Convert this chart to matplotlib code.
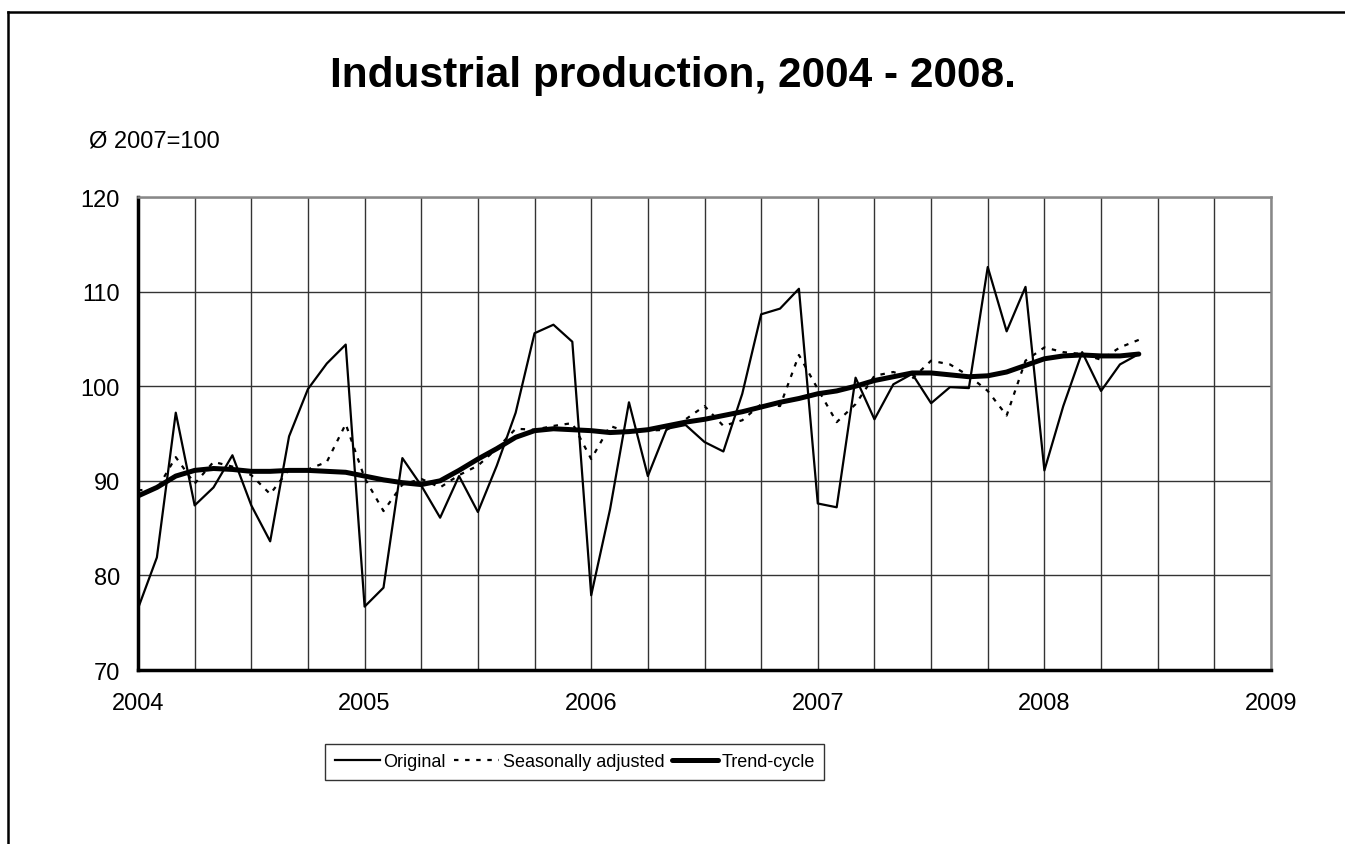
import matplotlib
matplotlib.use("Agg")
import matplotlib.pyplot as plt
import numpy as np
from matplotlib.lines import Line2D

plt.rcParams['font.family'] = ['Liberation Sans', 'DejaVu Sans']

start_year = 2004
original = [76.5, 81.9, 97.2, 87.4, 89.3, 92.7, 87.4, 83.6, 94.7, 99.7, 102.4, 104.4,
            76.7, 78.7, 92.4, 89.5, 86.1, 90.5, 86.7, 91.6, 97.2, 105.6, 106.5, 104.7,
            77.9, 87.0, 98.3, 90.5, 95.5, 95.9, 94.1, 93.1, 99.2, 107.6, 108.2, 110.3,
            87.6, 87.2, 100.9, 96.5, 100.2, 101.3, 98.2, 99.9, 99.8, 112.6, 105.8, 110.5,
            91.1, 97.9, 103.6, 99.5, 102.3, 103.4]
seasonal = [89.0, 89.1, 92.5, 89.7, 92.0, 91.5, 90.6, 88.6, 91.2, 91.2, 92.0, 96.0,
            90.3, 86.8, 89.6, 90.2, 89.3, 90.6, 91.6, 93.4, 95.5, 95.4, 95.8, 96.1,
            92.3, 95.8, 95.1, 95.3, 95.4, 96.5, 97.9, 95.8, 96.4, 98.1, 97.9, 103.3,
            99.7, 96.2, 98.1, 101.1, 101.5, 100.8, 102.7, 102.3, 101.1, 99.5, 96.9, 102.7,
            104.1, 103.6, 103.4, 102.8, 104.1, 104.9]
trend = [88.4, 89.3, 90.5, 91.1, 91.3, 91.2, 91.0, 91.0, 91.1, 91.1, 91.0, 90.9,
         90.5, 90.1, 89.8, 89.6, 90.0, 91.1, 92.3, 93.4, 94.6, 95.3, 95.5, 95.4,
         95.3, 95.1, 95.2, 95.4, 95.8, 96.2, 96.5, 96.9, 97.3, 97.8, 98.3, 98.7,
         99.2, 99.5, 100.0, 100.6, 101.0, 101.4, 101.4, 101.2, 101.0, 101.1, 101.5, 102.2,
         102.9, 103.2, 103.3, 103.2, 103.2, 103.4]
year_ticks = [2004, 2005, 2006, 2007, 2008, 2009]
y_ticks = [70, 80, 90, 100, 110, 120]

x = start_year + np.arange(len(original)) / 12.0

W, H = 1345, 845
fig = plt.figure(figsize=(W / 100, H / 100), dpi=100)
ax = fig.add_axes([138 / W, 1 - 671 / H, (1271 - 138) / W, (671 - 198) / H])

ax.plot(x, original, color='black', lw=1.6, label='Original', zorder=3)
ax.plot(x, seasonal, color='black', lw=1.6, linestyle=(0, (2, 3)),
        label='Seasonally adjusted', zorder=3)
ax.plot(x, trend, color='black', lw=3.6, label='Trend-cycle', zorder=4,
        solid_capstyle='round')

ax.set_xlim(2004, 2009)
ax.set_ylim(70, 120)
ax.set_xticks(year_ticks)
ax.set_xticklabels([str(v) for v in year_ticks])
ax.set_xticks(np.arange(2004, 2009.01, 0.25), minor=True)
ax.set_yticks(y_ticks)
ax.grid(True, which='both', axis='x', color='#333333', lw=1.0)
ax.grid(True, which='major', axis='y', color='#333333', lw=1.0)
ax.set_axisbelow(True)
ax.tick_params(axis='both', which='both', length=0, labelsize=17)
ax.tick_params(axis='y', pad=13)
ax.tick_params(axis='x', pad=16)
for s in ['left', 'bottom']:
    ax.spines[s].set_linewidth(2.5)
    ax.spines[s].set_color('black')
for s in ['top', 'right']:
    ax.spines[s].set_linewidth(1.8)
    ax.spines[s].set_color('#888888')

fig.text(0.5, 1 - 76 / H, 'Industrial production, 2004 - 2008.',
         ha='center', va='center', fontsize=30.5, fontweight='bold')
fig.text(89 / W, 1 - 141 / H, 'Ø 2007=100', ha='left', va='center', fontsize=17)

leg = fig.legend(loc='center', bbox_to_anchor=(574.5 / W, 1 - 763 / H), ncol=3,
                 frameon=True, fancybox=False, handlelength=2.5, handletextpad=0.2,
                 columnspacing=0.45, borderpad=0.55, borderaxespad=0,
                 prop={'size': 13})
leg.get_frame().set_edgecolor('black')
leg.get_frame().set_linewidth(1.0)

# outer frame
fig.add_artist(Line2D([8 / W, 8 / W], [0, 1 - 13 / H], color='black', lw=1.8,
                      transform=fig.transFigure))
fig.add_artist(Line2D([8 / W, 1], [1 - 13 / H, 1 - 13 / H], color='black', lw=1.8,
                      transform=fig.transFigure))

fig.savefig('out.png', dpi=100)
